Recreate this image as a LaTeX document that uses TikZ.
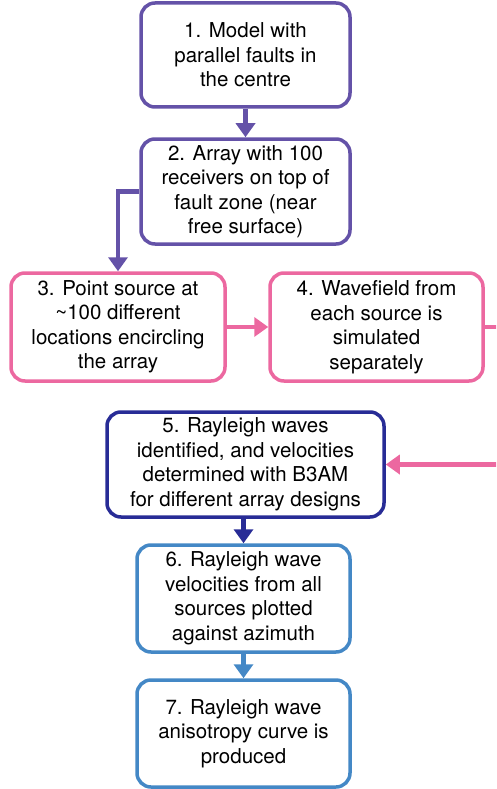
\documentclass[tikz,border=0pt]{standalone}
\usepackage{fontspec}
\setmainfont{TeX Gyre Heros}
\usetikzlibrary{arrows.meta}
\definecolor{stepviolet}{RGB}{100,82,168}
\definecolor{steppink}{RGB}{236,104,160}
\definecolor{stepnavy}{RGB}{40,44,150}
\definecolor{stepsky}{RGB}{68,136,198}

\begin{document}
\begin{tikzpicture}
        [x=1pt,y=-1pt,
        %%%%%%%%%%%%%%%%%%%%%%%%%%%%%%
        stepbox/.style={draw,rounded corners=14pt,line width=3.5pt,fill=white,
          align=center,inner sep=0pt,
          font=\fontsize{20.5}{24.5}\selectfont},
        link/.style={line width=4.5pt,-{Triangle[width=19pt,length=14pt]}},
        ]%%%%%%%%%%%%%%%%%%%%%%%%%%%%%%
        \clip (0,0) rectangle (496,789);
        % Boxes
        \node[stepbox,draw=stepviolet,minimum width=209pt,minimum height=104pt]
          (model) at (245.5,55) {1. Model with\\parallel faults in\\the centre};
        \node[stepbox,draw=stepviolet,minimum width=209pt,minimum height=105pt]
          (array) at (245.5,191.5) {2. Array with 100\\receivers on top of\\fault zone (near\\free surface)};
        \node[stepbox,draw=steppink,minimum width=214pt,minimum height=108pt]
          (source) at (118,327) {3. Point source at\\\textasciitilde100 different\\locations encircling\\the array};
        \node[stepbox,draw=steppink,minimum width=213pt,minimum height=108pt]
          (wavefield) at (376.5,327) {4. Wavefield from\\each source is\\simulated\\separately};
        \node[stepbox,draw=stepnavy,minimum width=277pt,minimum height=105pt]
          (rayleigh) at (245.5,464.5) {5. Rayleigh waves\\identified, and velocities\\determined with B3AM\\for different array designs};
        \node[stepbox,draw=stepsky,minimum width=213pt,minimum height=107pt]
          (velocity) at (243.5,598.5) {6. Rayleigh wave\\velocities from all\\sources plotted\\against azimuth};
        \node[stepbox,draw=stepsky,minimum width=213pt,minimum height=107pt]
          (curve) at (243.5,733.5) {7. Rayleigh wave\\anisotropy curve is\\produced};
        % Arrows
        \draw[link,stepviolet] (model) -- (array);
        \draw[link,stepviolet] (array.west) -| (source.north);
        \draw[link,steppink] (source) -- (wavefield);
        \draw[link,steppink] (wavefield.east) -- ++(30,0) |- (rayleigh.east);
        \draw[link,stepnavy] (rayleigh.south -| velocity.north) -- (velocity.north);
        \draw[link,stepsky] (velocity) -- (curve);
      \end{tikzpicture}
\end{document}
